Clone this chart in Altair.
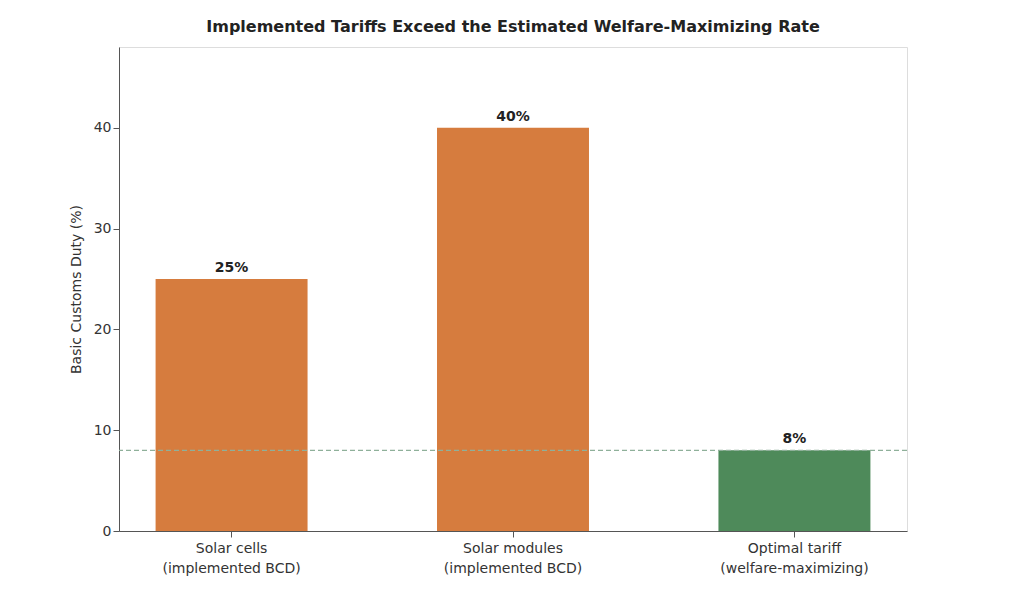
import altair as alt
import pandas as pd

categories = ["Solar cells\n(implemented BCD)", "Solar modules\n(implemented BCD)", "Optimal tariff\n(welfare-maximizing)"]
duties = [25, 40, 8]
labels = ["25%", "40%", "8%"]
kinds = ["implemented", "implemented", "optimal"]
optimal_rate = 8


def main() -> None:
    df = pd.DataFrame({"cat": categories, "duty": duties, "label": labels, "kind": kinds})

    x = alt.X(
        "cat:N",
        sort=categories,
        title=None,
        scale=alt.Scale(paddingInner=0.46, paddingOuter=0.13),
        axis=alt.Axis(labelAngle=0, labelExpr="split(datum.label, '\\n')", labelFontSize=14,
                      labelColor="#333333", domainColor="#555555", tickColor="#555555",
                      tickSize=6, labelPadding=4, labelLineHeight=20),
    )
    y = alt.Y(
        "duty:Q",
        title="Basic Customs Duty (%)",
        scale=alt.Scale(domain=[0, 48], nice=False),
        axis=alt.Axis(values=[0, 10, 20, 30, 40], grid=False, labelFontSize=14, titleFontSize=14,
                      labelColor="#333333", titleColor="#333333", titleFontWeight="normal",
                      domainColor="#555555", tickColor="#555555", tickSize=6, titlePadding=10),
    )

    bars = alt.Chart(df).mark_bar().encode(
        x=x,
        y=y,
        color=alt.Color("kind:N", scale=alt.Scale(domain=["implemented", "optimal"],
                                                  range=["#d67c3e", "#4e8a5a"]), legend=None),
    )
    text = alt.Chart(df).mark_text(dy=-11, fontSize=14, fontWeight="bold", color="#222222").encode(
        x=alt.X("cat:N", sort=categories), y="duty:Q", text="label:N"
    )
    rule = alt.Chart(pd.DataFrame({"v": [optimal_rate]})).mark_rule(
        strokeDash=[5, 3], color="#8fb09a", strokeWidth=1.2
    ).encode(y="v:Q")

    chart = (
        alt.layer(bars, rule, text)
        .properties(
            width=788,
            height=484,
            autosize=alt.AutoSizeParams(type="none"),
            padding={"left": 111, "top": 39, "right": 10, "bottom": 70},
            title=alt.Title("Implemented Tariffs Exceed the Estimated Welfare-Maximizing Rate",
                            fontSize=16, fontWeight="bold", color="#222222", offset=12),
        )
        .configure_view(stroke=None)
        .configure(font="DejaVu Sans")
    )
    chart.save("out.html", embed_options={"renderer": "svg", "actions": False})


if __name__ == "__main__":
    main()
